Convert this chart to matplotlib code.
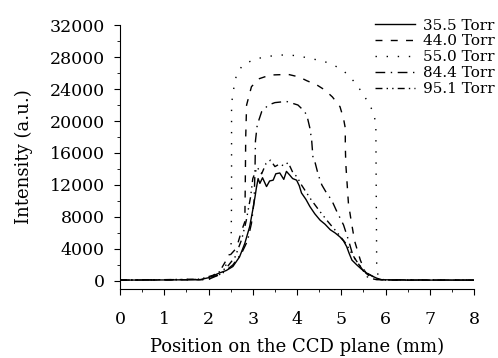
import matplotlib
matplotlib.use('Agg')
import matplotlib.pyplot as plt
import numpy as np

plt.rcParams['font.family'] = 'DejaVu Serif'

# 35.5 Torr (solid)
x_355 = [0, 1.0, 1.8, 2.0, 2.25, 2.4, 2.55, 2.7, 2.82, 2.93, 3.0, 3.05, 3.08, 3.12, 3.16,
         3.22, 3.31, 3.38, 3.46, 3.52, 3.61, 3.7, 3.76, 3.84, 3.9, 3.99, 4.05, 4.1, 4.2,
         4.29, 4.4, 4.52, 4.63, 4.75, 4.86, 4.97, 5.05, 5.12, 5.18, 5.24, 5.35, 5.45,
         5.58, 5.7, 5.8, 5.9, 6.5, 8.0]
y_355 = [100, 120, 150, 400, 1000, 1300, 1800, 3000, 4700, 6800, 8900, 10500, 11600, 12800,
         12200, 12900, 11800, 12500, 12600, 13400, 13500, 12700, 13700, 13200, 12800, 12600,
         11900, 11000, 10200, 9300, 8400, 7600, 7100, 6400, 6000, 5500, 5000, 4300, 3400,
         2600, 2000, 1500, 960, 600, 340, 150, 100, 100]

# 44.0 Torr (dashed)
x_440 = [0, 1.9, 2.2, 2.43, 2.63, 2.74, 2.82, 2.83, 2.84, 2.86, 2.97, 3.15, 3.39, 3.8, 4.05,
         4.22, 4.45, 4.63, 4.8, 4.97, 5.05, 5.09, 5.09, 5.1, 5.16, 5.22, 5.3, 5.43, 5.55,
         5.7, 6.0, 8.0]
y_440 = [100, 150, 700, 2870, 4100, 6160, 7400, 12000, 18000, 22000, 24300, 25300, 25750,
         25830, 25500, 25040, 24500, 23870, 23000, 21790, 20300, 19100, 17000, 14750, 9750,
         7600, 5000, 2600, 1000, 300, 100, 100]

# 55.0 Torr (dotted)
x_550 = [0, 2.0, 2.25, 2.38, 2.46, 2.51, 2.52, 2.52, 2.52, 2.55, 2.63, 2.77, 3.05, 3.31,
         3.57, 3.79, 4.02, 4.31, 4.56, 4.80, 5.05, 5.27, 5.46, 5.61, 5.73, 5.78, 5.79,
         5.80, 5.85, 6.0, 8.0]
y_550 = [100, 200, 800, 1800, 3000, 4700, 10000, 16000, 22000, 23500, 25750, 27000, 27750,
         28040, 28250, 28250, 28160, 27800, 27540, 27080, 26290, 25040, 23660, 22290, 21040,
         19600, 10000, 1400, 300, 100, 100]

# 84.4 Torr (dash-dot)
x_844 = [0, 2.0, 2.3, 2.55, 2.75, 2.88, 2.97, 3.03, 3.05, 3.06, 3.1, 3.2, 3.35, 3.5, 3.76,
         4.02, 4.15, 4.22, 4.29, 4.33, 4.36, 4.41, 4.48, 4.56, 4.67, 4.78, 4.90, 5.05, 5.16,
         5.27, 5.43, 5.6, 5.8, 8.0]
y_844 = [100, 200, 900, 2000, 3500, 5000, 7200, 10000, 14000, 17500, 19500, 21160, 22000,
         22300, 22450, 22000, 21300, 20750, 19100, 17600, 15400, 14750, 13250, 12000, 10960,
         10125, 8660, 7000, 5125, 3040, 1800, 400, 150, 100]

# 95.1 Torr (dash-dot-dot)
x_951 = [0, 1.8, 2.1, 2.4, 2.6, 2.75, 2.85, 2.95, 3.0, 3.1, 3.2, 3.3, 3.4, 3.5, 3.6, 3.7,
         3.8, 3.9, 4.0, 4.1, 4.3, 4.5, 4.7, 4.9, 5.1, 5.25, 5.4, 5.6, 5.8, 6.0, 8.0]
y_951 = [100, 200, 700, 1600, 3000, 5200, 7500, 10500, 12800, 14200, 13400, 14700, 15100,
         14300, 14600, 14400, 14800, 13600, 13000, 12000, 10300, 8800, 7400, 6100, 4700,
         3300, 2000, 900, 300, 120, 100]

series = [
    (x_355, y_355, '35.5 Torr', '-'),
    (x_440, y_440, '44.0 Torr', (0, (5, 6))),
    (x_550, y_550, '55.0 Torr', (0, (1, 7))),
    (x_844, y_844, '84.4 Torr', (0, (7, 4, 1, 4))),
    (x_951, y_951, '95.1 Torr', (0, (5, 3, 1, 3, 1, 3))),
]

fig = plt.figure(figsize=(4.98, 3.58), dpi=100)
ax = fig.add_axes([0.241, 0.193, 0.711, 0.737])

for xs, ys, lab, ls in series:
    ax.plot(xs, ys, color='black', linestyle=ls, linewidth=1.0, label=lab)

ax.set_xlim(0, 8)
ax.set_ylim(-1000, 32000)
ax.set_xticks(np.arange(0, 9, 1))
ax.set_xticks(np.arange(0, 8.5, 0.5), minor=True)
ax.set_yticks(np.arange(0, 32001, 4000))
ax.set_yticks(np.arange(0, 32001, 2000), minor=True)
ax.tick_params(which='major', direction='out', length=4, width=0.8, labelsize=12.5, pad=7)
ax.tick_params(axis='x', which='major', pad=12)
ax.tick_params(which='minor', direction='out', length=2, width=0.6)
ax.spines['top'].set_visible(False)
ax.spines['right'].set_visible(False)

ax.set_xlabel('Position on the CCD plane (mm)', fontsize=13, labelpad=7)
ax.set_ylabel('Intensity (a.u.)', fontsize=13, labelpad=12)

fig.legend(loc='upper right', bbox_to_anchor=(1.005, 0.965), frameon=False, fontsize=11,
           handlelength=2.6, handletextpad=0.5, labelspacing=0.12, borderaxespad=0)

plt.savefig('out.png', dpi=100)
